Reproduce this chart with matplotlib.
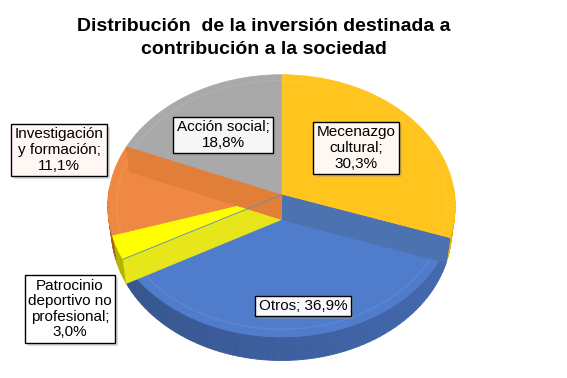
import numpy as np
import matplotlib
matplotlib.use("Agg")
import matplotlib.pyplot as plt
from matplotlib.patches import Polygon
import matplotlib.patheffects as pe

plt.rcParams['font.family'] = ['Liberation Sans', 'DejaVu Sans']

# ---- data (clockwise from 12 o'clock) ----
categories = ["Mecenazgo\ncultural", "Otros", "Patrocinio\ndeportivo no\nprofesional",
              "Investigación\ny formación", "Acción social"]
values = [30.3, 36.9, 3.0, 11.1, 18.8]
top_colors = ["#FFC41E", "#4F7CCB", "#FFFF00", "#EF8843", "#A9A9A9"]
side_colors = ["#E0A810", "#4267AC", "#D8D800", "#D6722C", "#909090"]
wall_colors = ["#E8B015", "#4C72B0", "#E6E61A", "#E17E38", "#9A9A9A"]
title = "Distribución  de la inversión destinada a\ncontribución a la sociedad"

# ---- perspective projection of a 3D pie ----
phi = np.radians(48.8)
S, C = np.sin(phi), np.cos(phi)
D, F = 7.98, 1381.0
CX, CY = 281.5, 195.0
H = 0.22

def proj(theta, r, z):
    t = np.radians(theta)
    X, Y = r * np.sin(t), r * np.cos(t)
    yc = Y * S + z * C
    depth = D + Y * C - z * S
    return CX + F * X / depth, CY - F * yc / depth

fig = plt.figure(figsize=(5.67, 3.78), dpi=100)
ax = fig.add_axes([0, 0, 1, 1])
ax.set_xlim(0, 567)
ax.set_ylim(378, 0)
ax.axis('off')

total = sum(values)
bounds = np.concatenate([[0], np.cumsum(values) / total * 360.0])

def shade(hexc, k):
    rgb = np.array(matplotlib.colors.to_rgb(hexc))
    return np.clip(rgb * k, 0, 1)

# outer cylinder sides
for i in range(len(values)):
    a0, a1 = bounds[i], bounds[i + 1]
    n = max(2, int((a1 - a0) / 2) + 1)
    ts = np.linspace(a0, a1, n)
    for j in range(n - 1):
        tm = 0.5 * (ts[j] + ts[j + 1])
        if np.cos(np.radians(tm)) > 0.05:
            continue
        p1 = proj(ts[j], 1, 0); p2 = proj(ts[j + 1], 1, 0)
        p3 = proj(ts[j + 1], 1, -H); p4 = proj(ts[j], 1, -H)
        k = 0.92 + 0.10 * np.sin(np.radians(tm))
        ax.add_patch(Polygon([p1, p2, p3, p4], closed=True,
                             facecolor=shade(side_colors[i], k), edgecolor=shade(side_colors[i], k),
                             linewidth=0.6, zorder=1))

# top faces
for i in range(len(values)):
    a0, a1 = bounds[i], bounds[i + 1]
    ts = np.linspace(a0, a1, max(3, int(a1 - a0) + 2))
    pts = [proj(0, 0, 0)] + [proj(t, 1, 0) for t in ts]
    ax.add_patch(Polygon(pts, closed=True, facecolor=top_colors[i],
                         edgecolor=top_colors[i], linewidth=0.5, zorder=2))

# faint bevel arc on top face
ts = np.linspace(0, 360, 361)
arc = np.array([proj(t, 0.95, 0) for t in ts])
ax.plot(arc[:, 0], arc[:, 1], color='white', alpha=0.08, lw=1, zorder=2.5)

# radial walls visible in the reference rendering
def wall(theta, color):
    pts = [proj(0, 0, 0), proj(0, 0, -H), proj(theta, 1, -H), proj(theta, 1, 0)]
    ax.add_patch(Polygon(pts, closed=True, facecolor=color, edgecolor=color,
                         linewidth=0.5, zorder=3))

wall(bounds[1], wall_colors[1])     # Otros, start edge
wall(bounds[2], wall_colors[2])     # Patrocinio, start edge
wall(bounds[4], wall_colors[3])     # Investigación, end edge
p0 = proj(0, 0, 0); pb = proj(bounds[2], 1, 0)
ax.plot([p0[0], pb[0]], [p0[1], pb[1]], color='#5A8FC0', lw=0.6, zorder=3.5)

# ---- title ----
ax.text(264, 38, title, ha='center', va='center', fontsize=14, fontweight='bold',
        linespacing=1.4, color='black', zorder=10)

# ---- labels ----
label_pos = [(356, 148), (303, 306), (70, 309), (59, 150), (223, 135)]
label_fc = ["#FFF8F2", "#F8F8FF", "#FFFFFF", "#FFF7F3", "#F6F6F6"]
for i, (cat, v) in enumerate(zip(categories, values)):
    val = f"{v:.1f}%".replace('.', ',')
    if cat == "Otros":
        txt = f"{cat}; {val}"
    else:
        txt = f"{cat};\n{val}"
    t = ax.text(label_pos[i][0], label_pos[i][1], txt, ha='center', va='center',
                fontsize=11, linespacing=1.15, color='black', zorder=11,
                bbox=dict(boxstyle='square,pad=0.22', facecolor=label_fc[i],
                          edgecolor='black', linewidth=1))
    t.get_bbox_patch().set_path_effects([
        pe.SimplePatchShadow(offset=(2, -2), shadow_rgbFace='#999999', alpha=0.35),
        pe.Normal()])

fig.savefig("out.png", dpi=100)
